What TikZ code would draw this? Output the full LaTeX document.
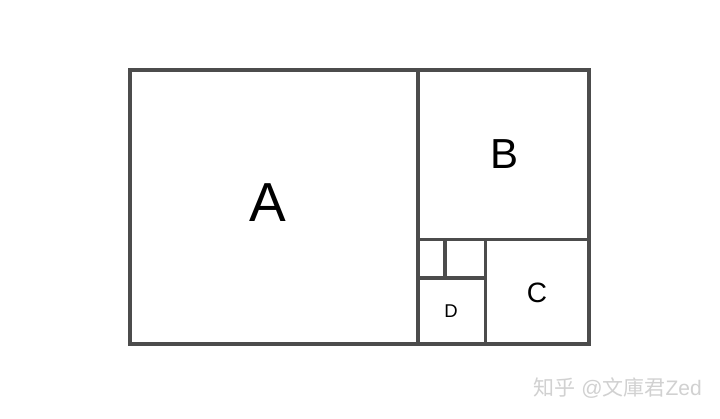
\documentclass[tikz,border=0pt]{standalone}
\usepackage{fontspec}
\setmainfont{Liberation Sans}
\newfontfamily\cjk{Noto Sans CJK SC}
\begin{document}
\begin{tikzpicture}[x=1pt,y=-1pt]
\tikzset{
  boxline/.style={draw=black!70, line width=3.6pt},
  lbl/.style={inner sep=0pt, text=black}
}
\useasboundingbox[fill=white] (0,0) rectangle (720,419);
% outer rectangle and divisions
\draw[boxline] (130,70) rectangle (589,344);
\coordinate (p1) at (418,70);
\coordinate (p2) at (418,344);
\draw[boxline] (p1) -- (p2);
\coordinate (h1) at (418,239.5);
\coordinate (h2) at (589,239.5);
\draw[boxline] (h1) -- (h2);
\coordinate (v1) at (485.5,239.5);
\coordinate (v2) at (485.5,344);
\draw[boxline] (v1) -- (v2);
\coordinate (m1) at (418,278);
\coordinate (m2) at (485.5,278);
\draw[boxline] (m1) -- (m2);
\coordinate (s1) at (445,239.5);
\coordinate (s2) at (445,278);
\draw[boxline] (s1) -- (s2);
% labels
\node[lbl, font=\fontsize{55}{55}\selectfont] (A) at (268,203) {A};
\node[lbl, font=\fontsize{42}{42}\selectfont] (B) at (505,154) {B};
\node[lbl, font=\fontsize{28}{28}\selectfont] (C) at (537,293) {C};
\node[lbl, font=\fontsize{18.5}{18.5}\selectfont] (D) at (451,311) {D};
% watermark
\node[lbl, text=black!18, font=\fontsize{21}{21}\selectfont, anchor=east] (W) at (702,388) {{\cjk 知乎} @{\cjk 文庫君}Zed};
\end{tikzpicture}
\end{document}
